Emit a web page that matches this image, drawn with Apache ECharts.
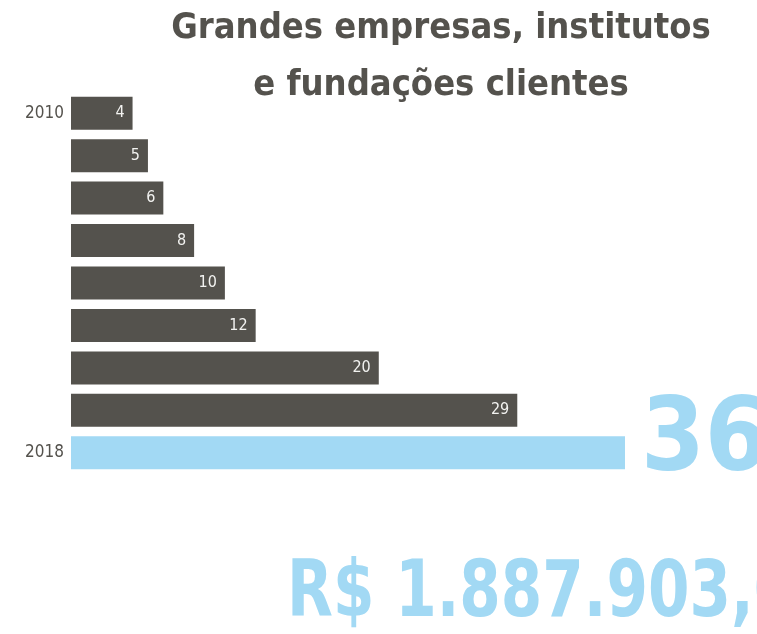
<!DOCTYPE html>
<html>
<head>
<meta charset="utf-8">
<script src="https://cdn.jsdelivr.net/npm/echarts@6/dist/echarts.min.js"></script>
<style>
  html, body { margin: 0; padding: 0; background: #fff; }
  #chart { width: 757px; height: 634px; }
</style>
</head>
<body>
<div id="chart"></div>
<script>
const years = ['2010', '2011', '2012', '2013', '2014', '2015', '2016', '2017', '2018'];
const clients = [4, 5, 6, 8, 10, 12, 20, 29, 36];
const titleLines = ['Grandes empresas, institutos', 'e fundações clientes'];
const totalValue = 'R$ 1.887.903,00';

const dark = '#54524d';
const blue = '#a2d9f4';
const narrow = '"DejaVu Sans Condensed", "DejaVu Sans", sans-serif';

const chart = echarts.init(document.getElementById('chart'));

const lastIdx = clients.length - 1;

const option = {
  animation: false,
  title: {
    text: titleLines.join('\n'),
    left: 436,
    top: -5,
    textAlign: 'center',
    textStyle: {
      fontFamily: narrow,
      fontWeight: 'bold',
      fontSize: 36,
      lineHeight: 57,
      color: dark
    }
  },
  grid: {
    left: 71,
    right: 132,
    top: 92,
    bottom: 160,
    containLabel: false
  },
  xAxis: {
    type: 'value',
    min: 0,
    max: 36,
    show: false
  },
  yAxis: {
    type: 'category',
    data: years,
    inverse: true,
    axisLine: { show: false },
    axisTick: { show: false },
    axisLabel: {
      margin: 7,
      fontFamily: narrow,
      fontSize: 17,
      color: dark,
      // only first and last year are labelled
      formatter: (v, i) => (i === 0 || i === years.length - 1) ? v : ''
    }
  },
  series: [
    {
      type: 'bar',
      barWidth: 33,
      data: clients.map((v, i) => ({
        value: v,
        itemStyle: { color: i === lastIdx ? blue : dark },
        label: i === lastIdx ? {
          show: true,
          position: 'right',
          distance: 16,
          offset: [0, -9],
          fontFamily: narrow,
          fontWeight: 'bold',
          fontSize: 102,
          color: blue
        } : undefined
      })),
      label: {
        show: true,
        position: 'insideRight',
        distance: 8,
        fontFamily: narrow,
        fontSize: 16,
        color: '#f2f2f0'
      }
    }
  ],
  graphic: [
    {
      type: 'text',
      x: 287,
      y: 557,
      scaleX: 0.85,
      style: {
        text: totalValue,
        fontFamily: narrow,
        fontWeight: 'bold',
        fontSize: 78,
        fill: blue
      }
    }
  ]
};

chart.setOption(option);
</script>
</body>
</html>
